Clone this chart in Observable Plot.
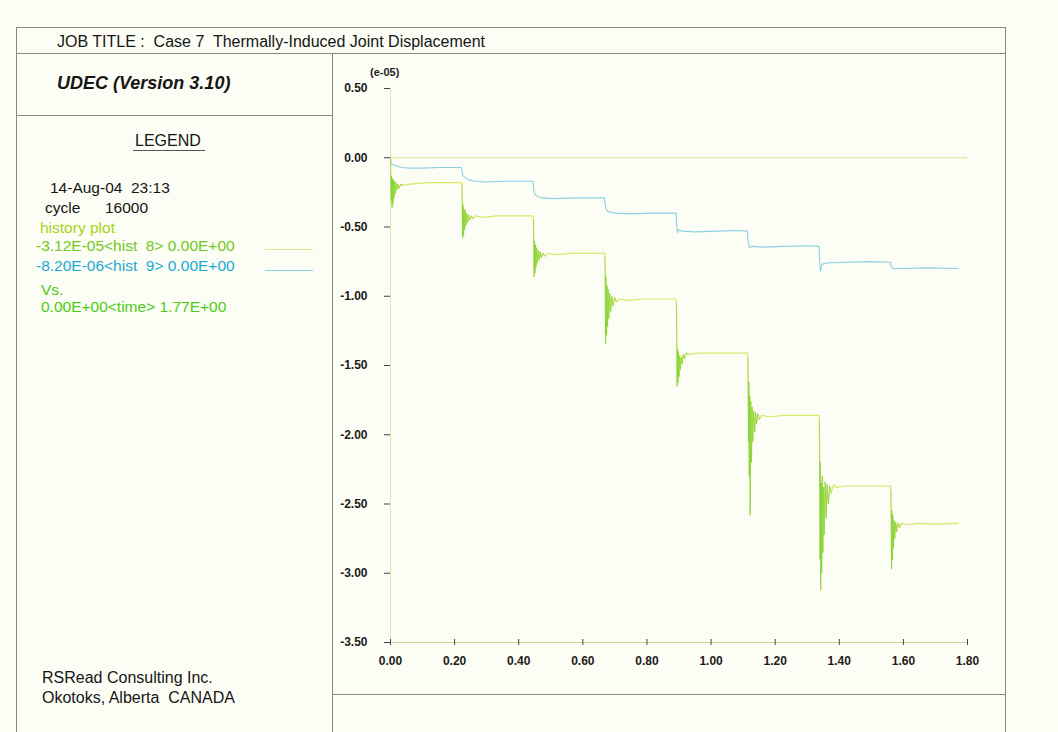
<!DOCTYPE html>
<html>
<head>
<meta charset="utf-8">
<script src="https://cdn.jsdelivr.net/npm/d3@7"></script>
<script src="https://cdn.jsdelivr.net/npm/@observablehq/plot@0.6"></script>
<style>
  body { margin: 0; background: #fcfdf4; }
  #page { position: relative; width: 1058px; height: 732px; overflow: hidden;
          font-family: "Liberation Sans", Arial, sans-serif; color: #161616; background: #fcfdf4; }
  .ln { position: absolute; background: #8e8878; }
  .t { position: absolute; white-space: pre; line-height: 1; }
  #chart { position: absolute; left: 337px; top: 55px; width: 668px; }
</style>
</head>
<body>
<div id="page">
  <!-- sheet frame -->
  <div class="ln" style="left:16px;top:27px;width:989px;height:1px"></div>
  <div class="ln" style="left:16px;top:53px;width:989px;height:1px"></div>
  <div class="ln" style="left:16px;top:27px;width:1px;height:705px"></div>
  <div class="ln" style="left:1005px;top:27px;width:1px;height:705px"></div>
  <div class="ln" style="left:332px;top:53px;width:1px;height:679px"></div>
  <div class="ln" style="left:16px;top:115px;width:316px;height:1px"></div>
  <div class="ln" style="left:332px;top:694px;width:673px;height:1px"></div>

  <div class="t" style="left:57px;top:34px;font-size:16px">JOB TITLE :  Case 7  Thermally-Induced Joint Displacement</div>
  <div class="t" style="left:57px;top:74px;font-size:18px;font-weight:bold;font-style:italic">UDEC (Version 3.10)</div>

  <div class="t" style="left:135px;top:133px;font-size:16px">LEGEND</div>
  <div class="ln" style="left:133px;top:150px;width:72px;height:1px;background:#555"></div>
  <div class="t" style="left:50px;top:180px;font-size:15.5px">14-Aug-04  23:13</div>
  <div class="t" style="left:45px;top:200px;font-size:15.5px">cycle</div>
  <div class="t" style="left:105px;top:200px;font-size:15.5px">16000</div>
  <div class="t" style="left:40px;top:220px;font-size:15.5px;color:#a8d41c">history plot</div>
  <div class="t" style="left:36px;top:238px;font-size:15.5px;color:#72c81e">-3.12E-05&lt;hist  8&gt; 0.00E+00</div>
  <div class="ln" style="left:265px;top:249px;width:48px;height:1px;background:#e2e68a"></div>
  <div class="t" style="left:36px;top:258px;font-size:15.5px;color:#20a9d6">-8.20E-06&lt;hist  9&gt; 0.00E+00</div>
  <div class="ln" style="left:265px;top:270px;width:48px;height:1px;background:#8ecfe3"></div>
  <div class="t" style="left:41px;top:282px;font-size:15.5px;color:#4ccc14">Vs.</div>
  <div class="t" style="left:41px;top:299px;font-size:15.5px;color:#4ccc14">0.00E+00&lt;time&gt; 1.77E+00</div>

  <div class="t" style="left:42px;top:670px;font-size:16px">RSRead Consulting Inc.</div>
  <div class="t" style="left:42px;top:690px;font-size:16px">Okotoks, Alberta  CANADA</div>

  <div class="t" style="left:370px;top:67px;font-size:11px;font-weight:bold;color:#222">(e-05)</div>
  <div id="chart"></div>
</div>

<script>
// Axis ticks
const xTicks = [0, 0.2, 0.4, 0.6, 0.8, 1.0, 1.2, 1.4, 1.6, 1.8];
const yTicks = [0.5, 0, -0.5, -1.0, -1.5, -2.0, -2.5, -3.0, -3.5];

// Times at which each thermal load increment is applied
const stepTimes = [0, 0.223, 0.446, 0.669, 0.892, 1.115, 1.338, 1.561];

// hist 8 : joint displacement (e-05) vs time
const hist8Time = [
  0.000, 0.001, 0.002, 0.003, 0.005, 0.006, 0.008, 0.009, 0.011, 0.013, 0.015, 0.017, 0.020, 0.023, 0.027, 0.032, 0.040, 0.060, 0.090, 0.120, 0.160, 0.200, 0.222,
  0.223, 0.224, 0.225, 0.226, 0.228, 0.229, 0.231, 0.233, 0.235, 0.237, 0.240, 0.243, 0.247, 0.252, 0.258, 0.265, 0.290, 0.330, 0.380, 0.445,
  0.446, 0.447, 0.448, 0.449, 0.451, 0.452, 0.454, 0.456, 0.458, 0.461, 0.464, 0.467, 0.471, 0.476, 0.482, 0.490, 0.520, 0.560, 0.610, 0.668,
  0.669, 0.670, 0.671, 0.672, 0.674, 0.675, 0.677, 0.679, 0.681, 0.684, 0.687, 0.690, 0.694, 0.699, 0.705, 0.712, 0.740, 0.790, 0.850, 0.891,
  0.892, 0.893, 0.894, 0.895, 0.897, 0.898, 0.900, 0.902, 0.904, 0.907, 0.910, 0.913, 0.917, 0.922, 0.930, 0.960, 1.010, 1.060, 1.114,
  1.115, 1.116, 1.117, 1.118, 1.119, 1.121, 1.122, 1.124, 1.126, 1.128, 1.130, 1.133, 1.136, 1.139, 1.142, 1.146, 1.151, 1.158, 1.180, 1.230, 1.290, 1.337,
  1.338, 1.339, 1.340, 1.341, 1.342, 1.344, 1.345, 1.347, 1.349, 1.351, 1.353, 1.356, 1.359, 1.362, 1.366, 1.370, 1.375, 1.382, 1.390, 1.420, 1.470, 1.520, 1.560,
  1.561, 1.562, 1.563, 1.564, 1.566, 1.567, 1.569, 1.571, 1.573, 1.576, 1.579, 1.583, 1.588, 1.594, 1.610, 1.650, 1.700, 1.770
];
const hist8Disp = [
  0.00, -0.22, -0.31, -0.13, -0.36, -0.15, -0.33, -0.16, -0.29, -0.17, -0.26, -0.18, -0.23, -0.19, -0.22, -0.19, -0.20, -0.19, -0.185, -0.18, -0.18, -0.18, -0.18,
  -0.20, -0.36, -0.58, -0.34, -0.56, -0.37, -0.52, -0.38, -0.49, -0.40, -0.47, -0.41, -0.45, -0.42, -0.44, -0.42, -0.43, -0.42, -0.42, -0.42,
  -0.45, -0.62, -0.86, -0.60, -0.83, -0.63, -0.79, -0.65, -0.76, -0.67, -0.74, -0.68, -0.72, -0.69, -0.71, -0.69, -0.70, -0.69, -0.69, -0.69,
  -0.72, -0.90, -1.34, -0.86, -1.28, -0.92, -1.22, -0.95, -1.16, -0.98, -1.11, -1.00, -1.07, -1.01, -1.04, -1.02, -1.03, -1.02, -1.02, -1.02,
  -1.05, -1.30, -1.65, -1.38, -1.62, -1.40, -1.58, -1.43, -1.53, -1.44, -1.49, -1.42, -1.45, -1.41, -1.42, -1.41, -1.41, -1.41, -1.41,
  -1.45, -1.70, -2.05, -1.62, -2.30, -1.72, -2.58, -1.76, -2.20, -1.80, -2.05, -1.83, -1.98, -1.84, -1.92, -1.85, -1.89, -1.86, -1.87, -1.86, -1.86, -1.86,
  -1.90, -2.30, -2.90, -2.20, -3.12, -2.35, -3.00, -2.30, -2.85, -2.38, -2.72, -2.34, -2.60, -2.36, -2.50, -2.37, -2.42, -2.36, -2.38, -2.37, -2.37, -2.37, -2.37,
  -2.40, -2.62, -2.97, -2.55, -2.90, -2.58, -2.82, -2.62, -2.75, -2.63, -2.70, -2.64, -2.67, -2.64, -2.65, -2.64, -2.645, -2.64
];

// hist 9 : joint displacement (e-05) vs time
const hist9Time = [
  0.000, 0.002, 0.010, 0.020, 0.035, 0.060, 0.100, 0.150, 0.200, 0.222,
  0.223, 0.226, 0.232, 0.245, 0.265, 0.300, 0.360, 0.420, 0.445,
  0.446, 0.450, 0.458, 0.475, 0.510, 0.580, 0.640, 0.668,
  0.669, 0.672, 0.680, 0.700, 0.750, 0.820, 0.891,
  0.892, 0.895, 0.899, 0.910, 0.950, 1.020, 1.080, 1.114,
  1.115, 1.119, 1.125, 1.160, 1.230, 1.300, 1.337,
  1.338, 1.341, 1.346, 1.360, 1.420, 1.500, 1.560,
  1.561, 1.566, 1.590, 1.680, 1.770
];
const hist9Disp = [
  0.00, -0.045, -0.05, -0.06, -0.07, -0.075, -0.075, -0.07, -0.07, -0.07,
  -0.10, -0.13, -0.14, -0.16, -0.17, -0.175, -0.17, -0.17, -0.17,
  -0.22, -0.26, -0.28, -0.29, -0.295, -0.29, -0.29, -0.29,
  -0.33, -0.37, -0.39, -0.40, -0.405, -0.40, -0.40,
  -0.46, -0.54, -0.52, -0.53, -0.535, -0.53, -0.525, -0.53,
  -0.59, -0.65, -0.64, -0.645, -0.64, -0.635, -0.64,
  -0.72, -0.82, -0.77, -0.76, -0.755, -0.75, -0.755,
  -0.78, -0.80, -0.80, -0.795, -0.80
];

const hist8 = hist8Time.map((t, i) => ({t, v: hist8Disp[i]}));
const hist9 = hist9Time.map((t, i) => ({t, v: hist9Disp[i]}));
// the oscillating part right after each load step
const stepOf = d => stepTimes.findIndex(s => d.t >= s && d.t <= s + 0.04);
const hist8Transient = hist8.filter(d => stepOf(d) >= 0);

const fmt = d => d.toFixed(2);

const chart = Plot.plot({
  width: 668,
  height: 639,
  marginLeft: 53,
  marginRight: 38,
  marginTop: 33,
  marginBottom: 52,
  style: {
    background: "transparent",
    fontFamily: "'Liberation Sans', Arial, sans-serif",
    fontSize: "12px",
    fontWeight: "bold",
    color: "#1c1c1c"
  },
  x: {domain: [0, 1.8], label: null},
  y: {domain: [-3.5, 0.5], label: null},
  marks: [
    Plot.ruleX([0], {stroke: "#dde8b0", strokeWidth: 1}),
    Plot.ruleY([-3.5], {stroke: "#c6da98", strokeWidth: 1}),
    Plot.ruleY([0], {x1: 0, x2: 1.8, stroke: "#d9e08c", strokeWidth: 1}),
    Plot.line(hist9, {x: "t", y: "v", stroke: "#8ecfe3", strokeWidth: 1.1}),
    Plot.line(hist8, {x: "t", y: "v", stroke: "#dde56c", strokeWidth: 1.2}),
    Plot.line(hist8Transient, {x: "t", y: "v", z: stepOf,
      stroke: "#62cf2e", strokeWidth: 1, strokeOpacity: 0.45}),
    Plot.axisY({ticks: yTicks, tickSize: 6, tickPadding: 17, tickFormat: fmt, stroke: "#444", label: null}),
    Plot.axisX({ticks: xTicks, tickSize: 6, dy: -3, tickFormat: () => "", stroke: "#444", label: null}),
    Plot.axisX({ticks: xTicks, tickSize: 0, tickPadding: 14, tickFormat: fmt, label: null})
  ]
});
document.getElementById("chart").appendChild(chart);
</script>
</body>
</html>
